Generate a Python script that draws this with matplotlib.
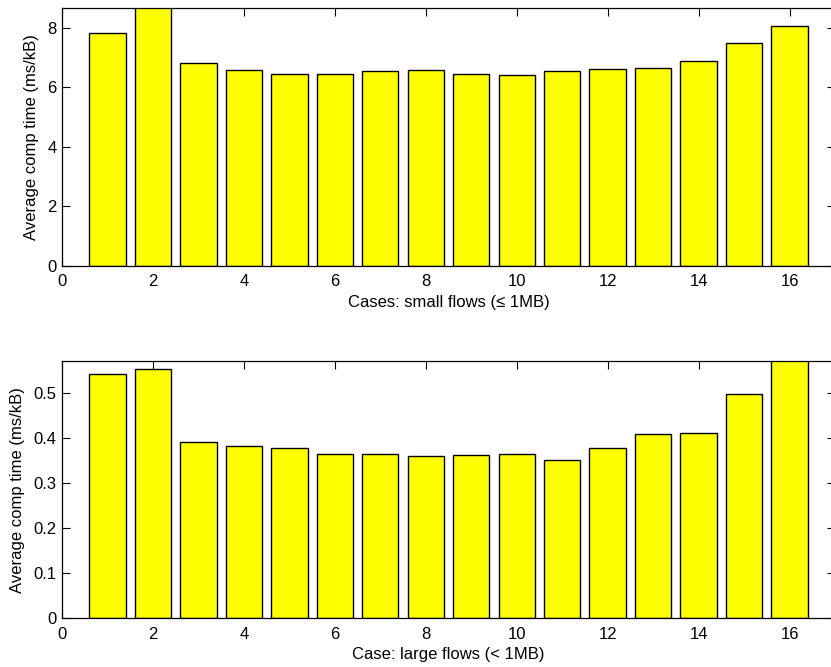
import matplotlib
matplotlib.use("Agg")
import matplotlib.pyplot as plt
import numpy as np

plt.rcParams['font.family'] = ['Liberation Sans', 'DejaVu Sans']

cases = np.arange(1, 17)
small_flows = [7.82, 9.00, 6.83, 6.59, 6.44, 6.43, 6.53, 6.57,
               6.43, 6.42, 6.55, 6.61, 6.65, 6.87, 7.47, 8.06]
large_flows = [0.544, 0.555, 0.391, 0.382, 0.378, 0.365, 0.366, 0.360,
               0.362, 0.365, 0.353, 0.379, 0.410, 0.413, 0.498, 0.600]
x_ticks = [0, 2, 4, 6, 8, 10, 12, 14, 16]
small_yticks = [0, 2, 4, 6, 8]
large_yticks = [0, 0.1, 0.2, 0.3, 0.4, 0.5]

W, H = 831, 667
fig = plt.figure(figsize=(W / 100, H / 100), dpi=100)
FS = 12


def make_axes(bottom_px, top_px):
    left, right = 62, 835
    return fig.add_axes([left / W, (H - bottom_px) / H,
                         (right - left) / W, (bottom_px - top_px) / H])


def style(ax, values, ylim, yticks, xlabel):
    ax.bar(cases, values, width=0.8, color='#ffff00', edgecolor='black',
           linewidth=1.0, zorder=2)
    ax.set_xlim(0, 17)
    ax.set_ylim(0, ylim)
    ax.set_xticks(x_ticks)
    ax.set_yticks(yticks)
    ax.set_yticklabels([f'{t:g}' for t in yticks])
    ax.tick_params(direction='in', length=6, width=0.8, top=True, right=True,
                   labelsize=FS)
    ax.tick_params(axis='x', pad=6)
    ax.tick_params(axis='y', pad=4)
    for s in ax.spines.values():
        s.set_linewidth(0.9)
        s.set_zorder(3)
    ax.set_xlabel(xlabel, fontsize=FS, labelpad=4)
    ax.set_ylabel('Average comp time (ms/kB)', fontsize=FS, labelpad=6)


ax1 = make_axes(266, 8)
style(ax1, small_flows, 8.66, small_yticks, 'Cases: small flows (≤ 1MB)')

ax2 = make_axes(618.3, 361)
style(ax2, large_flows, 0.572, large_yticks, 'Case: large flows (< 1MB)')

fig.savefig('out.png', dpi=100)
